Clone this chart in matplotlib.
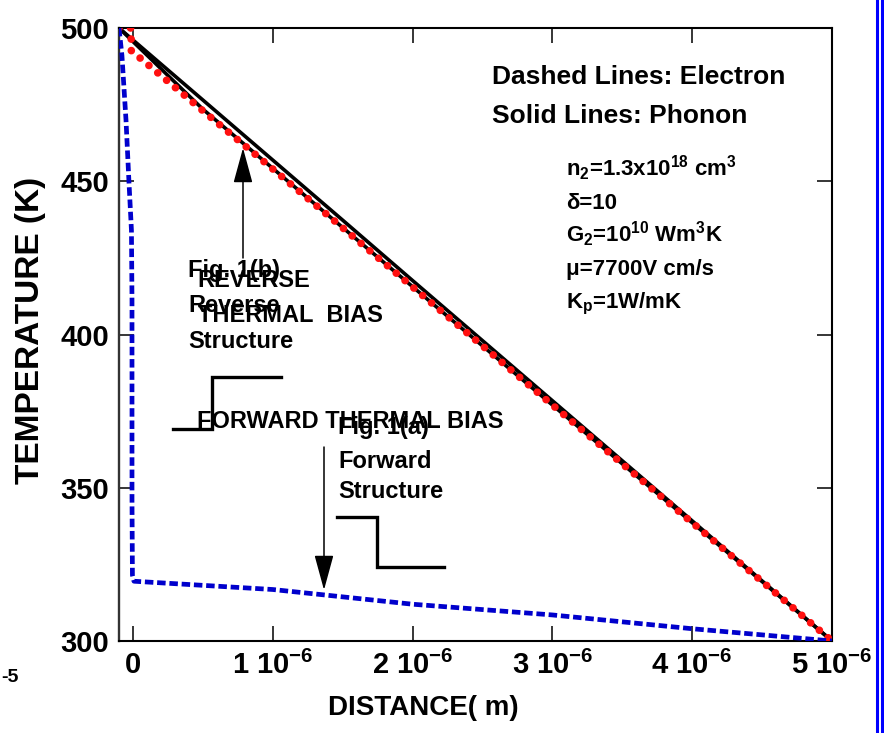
#!/usr/bin/env python3

import matplotlib
matplotlib.use('Agg')
from matplotlib import pyplot as plt
from matplotlib import font_manager
from matplotlib.lines import Line2D
import numpy as np


# distance in units of 1e-6 m, temperature in K
PHONON_A_X = [-0.1, 0.5, 1.0, 1.5, 2.0, 2.5, 3.0, 3.5, 4.0, 4.5, 5.0]
PHONON_A_T = [500, 476.5, 456.9, 437.3, 417.6, 398.0, 378.4, 358.8, 339.2, 319.6, 300]

PHONON_B_X = [-0.1, 0.25, 0.5, 1.0, 1.5, 2.0, 2.5, 3.0, 3.5, 4.0, 4.5, 5.0]
PHONON_B_T = [500, 484.5, 473.5, 454.2, 434.9, 415.6, 396.3, 377.0, 357.8, 338.6, 319.4, 300]

ELECTRON_REV_X = [-0.1, -0.014, -0.012, 0.5, 1.0, 1.5, 2.0, 2.5, 3.0, 3.5, 4.0, 4.5, 5.0]
ELECTRON_REV_T = [500, 500, 492.6, 473.0, 454.0, 434.8, 415.5, 396.3, 377.0, 357.8, 338.6, 319.4, 300]

ELECTRON_FWD_X = [-0.1, -0.079, -0.05, -0.029, -0.011, -0.007, -0.007, -0.004, 0.007,
                  1.0, 2.0, 3.0, 4.0, 5.0]
ELECTRON_FWD_T = [500, 491, 470, 450, 434, 411, 346, 321.5, 319.5,
                  316.8, 312, 308.5, 304, 300]

X_TICKS = [0, 1, 2, 3, 4, 5]
X_TICK_LABELS = ['0', '1 10$^{-6}$', '2 10$^{-6}$', '3 10$^{-6}$', '4 10$^{-6}$', '5 10$^{-6}$']
Y_TICKS = [300, 350, 400, 450, 500]

PARAMS = ['n$_2$=1.3x10$^{18}$ cm$^3$', 'δ=10', 'G$_2$=10$^{10}$ Wm$^3$K',
          'μ=7700V cm/s', 'K$_p$=1W/mK']

COLOR_BLUE = '#0000cc'
COLOR_RED = '#ff1010'

W, H = 884, 733
AX_L, AX_R, AX_T, AX_B = 119, 832, 28, 641

names = {f.name for f in font_manager.fontManager.ttflist}
NARROW = 'Liberation Sans Narrow' in names

plt.rcParams['font.family'] = ['Liberation Sans', 'DejaVu Sans']
plt.rcParams['font.weight'] = 'bold'
plt.rcParams['mathtext.fontset'] = 'custom'
plt.rcParams['mathtext.rm'] = 'Liberation Sans:bold'
plt.rcParams['mathtext.it'] = 'Liberation Sans:bold'
plt.rcParams['mathtext.bf'] = 'Liberation Sans:bold'
plt.rcParams['mathtext.default'] = 'regular'


def at(px, py):
    # pixel position in the picture -> axes fraction
    return ((px - AX_L) / (AX_R - AX_L), (AX_B - py) / (AX_B - AX_T))


fig = plt.figure(figsize=(W / 100, H / 100), dpi=100)
ax = fig.add_axes([AX_L / W, 1 - AX_B / H, (AX_R - AX_L) / W, (AX_B - AX_T) / H])

um = 1e-6
ax.plot(np.array(PHONON_A_X) * um, PHONON_A_T, color='black', lw=2.6, zorder=3)
ax.plot(np.array(PHONON_B_X) * um, PHONON_B_T, color='black', lw=2.6, zorder=3)
ax.plot(np.array(ELECTRON_REV_X) * um, ELECTRON_REV_T, color=COLOR_RED, lw=5.5,
        linestyle=(0, (0.01, 1.5)), dash_capstyle='round', zorder=4)
ax.plot(np.array(ELECTRON_FWD_X) * um, ELECTRON_FWD_T, color=COLOR_BLUE, lw=3.4,
        linestyle=(0, (1.8, 0.8)), dash_capstyle='butt', zorder=4)

ax.set_xlim(-0.1 * um, 5.0 * um)
ax.set_ylim(300, 500)
ax.set_xticks(np.array(X_TICKS) * um)
ax.set_xticklabels(X_TICK_LABELS)
ax.set_yticks(Y_TICKS)
ax.tick_params(direction='in', length=11, width=1.1, top=True, right=True,
               labelsize=21, color='black')
ax.tick_params(axis='x', pad=7)
ax.tick_params(axis='y', pad=7)
for side in ['top', 'right', 'bottom']:
    ax.spines[side].set_linewidth(1.5)
ax.spines['left'].set_linewidth(1.7)
ax.spines['left'].set_color('#333333')

fig.text(31 / W, 1 - 330 / H, 'TEMPERATURE (K)', rotation=90, ha='center', va='center',
         fontsize=24)
if NARROW:
    fig.text(423 / W, 1 - 708 / H, 'DISTANCE( m)', ha='center', va='center',
             fontsize=24, family='Liberation Sans Narrow')
else:
    fig.text(423 / W, 1 - 708 / H, 'DISTANCE( m)', ha='center', va='center', fontsize=20)
fig.text(1 / W, 1 - 682 / H, '-5', fontsize=14, va='baseline')

# legend-like notes
ax.text(*at(492, 84), 'Dashed Lines: Electron', transform=ax.transAxes, fontsize=19,
        va='baseline')
ax.text(*at(492, 123), 'Solid Lines: Phonon', transform=ax.transAxes, fontsize=19,
        va='baseline')
for i, s in enumerate(PARAMS):
    ax.text(*at(566, 176 + 33 * i), s, transform=ax.transAxes, fontsize=16, va='baseline')

# structure sketches
notes = [
    (188, 277, 'Fig. 1(b)'), (197, 287, 'REVERSE'), (188, 312, 'Reverse'),
    (198, 322, 'THERMAL  BIAS'), (188, 348, 'Structure'),
    (197, 428, 'FORWARD THERMAL BIAS'), (338, 434, 'Fig. 1(a)'),
    (338, 468, 'Forward'), (338, 498, 'Structure'),
]
for px, py, s in notes:
    ax.text(*at(px, py), s, transform=ax.transAxes, fontsize=17, va='baseline', zorder=5)

for pts in ([(173, 429), (212, 429), (212, 377), (281, 377)],
            [(337, 517), (377, 517), (377, 567), (444, 567)]):
    xy = np.array([at(*p) for p in pts])
    ax.add_line(Line2D(xy[:, 0], xy[:, 1], transform=ax.transAxes, color='black',
                       lw=2.4, solid_joinstyle='miter'))

arrow = dict(arrowstyle='-|>,head_length=1.1,head_width=0.3', color='black', lw=1.1,
             mutation_scale=20, shrinkA=0, shrinkB=0)
ax.annotate('', xy=at(243, 148), xytext=at(243, 258), xycoords='axes fraction',
            textcoords='axes fraction', arrowprops=arrow)
ax.annotate('', xy=at(324, 590), xytext=at(324, 447), xycoords='axes fraction',
            textcoords='axes fraction', arrowprops=arrow)

# double blue rule at the right edge
for px in (876.7, 882.3):
    fig.add_artist(Line2D([px / W, px / W], [0, 1], transform=fig.transFigure,
                          color='#0000ff', lw=2.2))

fig.savefig('out.png', dpi=100)
